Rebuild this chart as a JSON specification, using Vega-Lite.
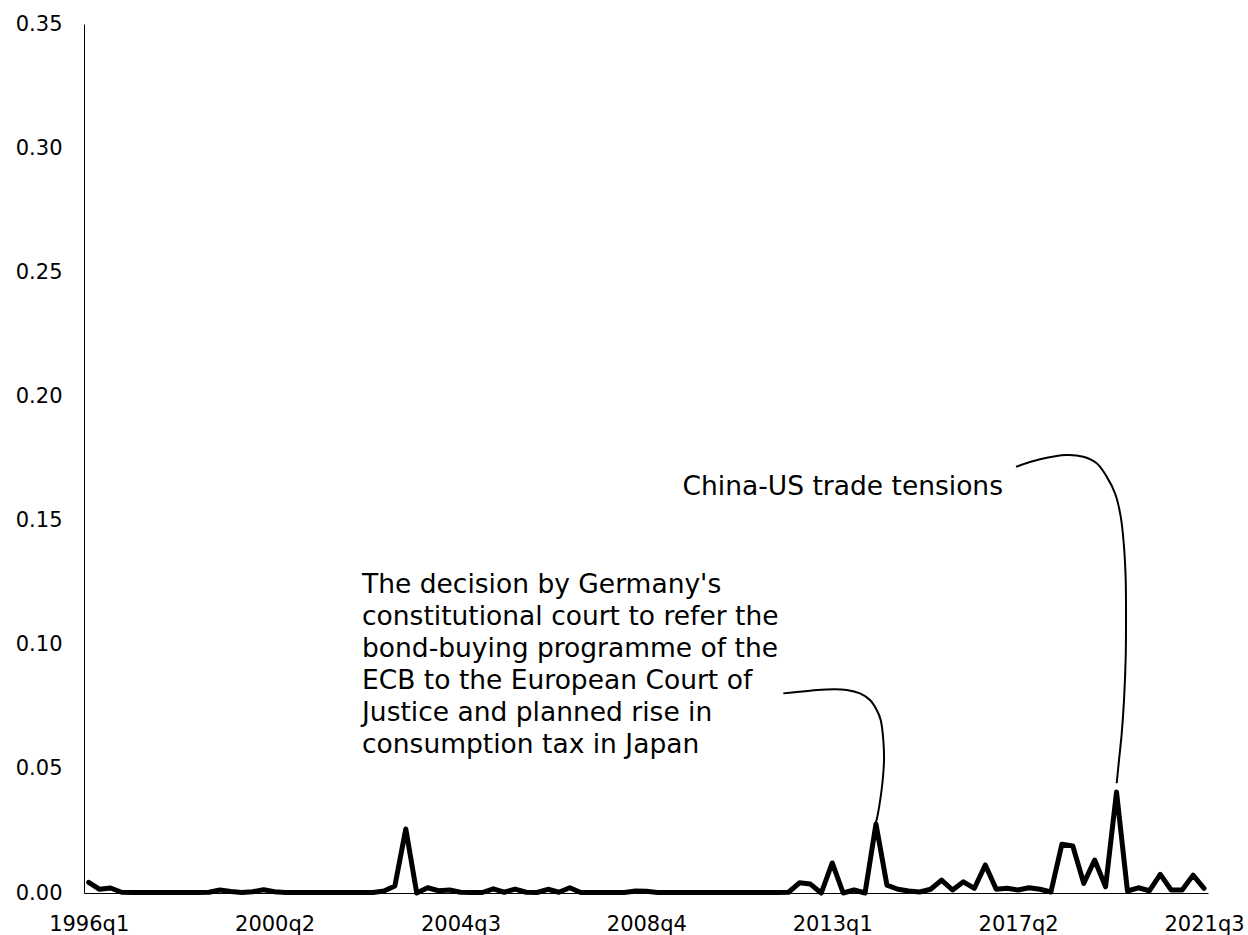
{
  "$schema": "https://vega.github.io/schema/vega-lite/v6.json",
  "autosize": {"type": "none"},
  "padding": {"left": 84, "top": 24, "right": 40, "bottom": 42},
  "width": 1124,
  "height": 869,
  "background": "white",
  "config": {"view": {"stroke": null}, "font": "DejaVu Sans"},
  "datasets": {
    "series": [
      {"q":"1996q1","t":1996.00,"v":0.0043},{"q":"1996q2","t":1996.25,"v":0.0015},{"q":"1996q3","t":1996.50,"v":0.0020},{"q":"1996q4","t":1996.75,"v":0.0003},
      {"q":"1997q1","t":1997.00,"v":0.0002},{"q":"1997q2","t":1997.25,"v":0.0002},{"q":"1997q3","t":1997.50,"v":0.0002},{"q":"1997q4","t":1997.75,"v":0.0002},
      {"q":"1998q1","t":1998.00,"v":0.0002},{"q":"1998q2","t":1998.25,"v":0.0002},{"q":"1998q3","t":1998.50,"v":0.0002},{"q":"1998q4","t":1998.75,"v":0.0003},
      {"q":"1999q1","t":1999.00,"v":0.0012},{"q":"1999q2","t":1999.25,"v":0.0006},{"q":"1999q3","t":1999.50,"v":0.0002},{"q":"1999q4","t":1999.75,"v":0.0005},
      {"q":"2000q1","t":2000.00,"v":0.0013},{"q":"2000q2","t":2000.25,"v":0.0005},{"q":"2000q3","t":2000.50,"v":0.0002},{"q":"2000q4","t":2000.75,"v":0.0002},
      {"q":"2001q1","t":2001.00,"v":0.0002},{"q":"2001q2","t":2001.25,"v":0.0002},{"q":"2001q3","t":2001.50,"v":0.0002},{"q":"2001q4","t":2001.75,"v":0.0002},
      {"q":"2002q1","t":2002.00,"v":0.0002},{"q":"2002q2","t":2002.25,"v":0.0002},{"q":"2002q3","t":2002.50,"v":0.0002},{"q":"2002q4","t":2002.75,"v":0.0008},
      {"q":"2003q1","t":2003.00,"v":0.0028},{"q":"2003q2","t":2003.25,"v":0.0258},{"q":"2003q3","t":2003.50,"v":0.0000},{"q":"2003q4","t":2003.75,"v":0.0021},
      {"q":"2004q1","t":2004.00,"v":0.0009},{"q":"2004q2","t":2004.25,"v":0.0012},{"q":"2004q3","t":2004.50,"v":0.0003},{"q":"2004q4","t":2004.75,"v":0.0002},
      {"q":"2005q1","t":2005.00,"v":0.0002},{"q":"2005q2","t":2005.25,"v":0.0017},{"q":"2005q3","t":2005.50,"v":0.0003},{"q":"2005q4","t":2005.75,"v":0.0016},
      {"q":"2006q1","t":2006.00,"v":0.0003},{"q":"2006q2","t":2006.25,"v":0.0002},{"q":"2006q3","t":2006.50,"v":0.0015},{"q":"2006q4","t":2006.75,"v":0.0003},
      {"q":"2007q1","t":2007.00,"v":0.0021},{"q":"2007q2","t":2007.25,"v":0.0002},{"q":"2007q3","t":2007.50,"v":0.0002},{"q":"2007q4","t":2007.75,"v":0.0002},
      {"q":"2008q1","t":2008.00,"v":0.0002},{"q":"2008q2","t":2008.25,"v":0.0002},{"q":"2008q3","t":2008.50,"v":0.0008},{"q":"2008q4","t":2008.75,"v":0.0007},
      {"q":"2009q1","t":2009.00,"v":0.0002},{"q":"2009q2","t":2009.25,"v":0.0002},{"q":"2009q3","t":2009.50,"v":0.0002},{"q":"2009q4","t":2009.75,"v":0.0002},
      {"q":"2010q1","t":2010.00,"v":0.0002},{"q":"2010q2","t":2010.25,"v":0.0002},{"q":"2010q3","t":2010.50,"v":0.0002},{"q":"2010q4","t":2010.75,"v":0.0002},
      {"q":"2011q1","t":2011.00,"v":0.0002},{"q":"2011q2","t":2011.25,"v":0.0002},{"q":"2011q3","t":2011.50,"v":0.0002},{"q":"2011q4","t":2011.75,"v":0.0002},
      {"q":"2012q1","t":2012.00,"v":0.0003},{"q":"2012q2","t":2012.25,"v":0.0041},{"q":"2012q3","t":2012.50,"v":0.0036},{"q":"2012q4","t":2012.75,"v":0.0000},
      {"q":"2013q1","t":2013.00,"v":0.0121},{"q":"2013q2","t":2013.25,"v":0.0000},{"q":"2013q3","t":2013.50,"v":0.0012},{"q":"2013q4","t":2013.75,"v":0.0000},
      {"q":"2014q1","t":2014.00,"v":0.0278},{"q":"2014q2","t":2014.25,"v":0.0032},{"q":"2014q3","t":2014.50,"v":0.0015},{"q":"2014q4","t":2014.75,"v":0.0008},
      {"q":"2015q1","t":2015.00,"v":0.0004},{"q":"2015q2","t":2015.25,"v":0.0015},{"q":"2015q3","t":2015.50,"v":0.0052},{"q":"2015q4","t":2015.75,"v":0.0012},
      {"q":"2016q1","t":2016.00,"v":0.0045},{"q":"2016q2","t":2016.25,"v":0.0019},{"q":"2016q3","t":2016.50,"v":0.0113},{"q":"2016q4","t":2016.75,"v":0.0015},
      {"q":"2017q1","t":2017.00,"v":0.0019},{"q":"2017q2","t":2017.25,"v":0.0012},{"q":"2017q3","t":2017.50,"v":0.0021},{"q":"2017q4","t":2017.75,"v":0.0015},
      {"q":"2018q1","t":2018.00,"v":0.0004},{"q":"2018q2","t":2018.25,"v":0.0196},{"q":"2018q3","t":2018.50,"v":0.0189},{"q":"2018q4","t":2018.75,"v":0.0039},
      {"q":"2019q1","t":2019.00,"v":0.0133},{"q":"2019q2","t":2019.25,"v":0.0025},{"q":"2019q3","t":2019.50,"v":0.0407},{"q":"2019q4","t":2019.75,"v":0.0008},
      {"q":"2020q1","t":2020.00,"v":0.0021},{"q":"2020q2","t":2020.25,"v":0.0009},{"q":"2020q3","t":2020.50,"v":0.0075},{"q":"2020q4","t":2020.75,"v":0.0012},
      {"q":"2021q1","t":2021.00,"v":0.0012},{"q":"2021q2","t":2021.25,"v":0.0072},{"q":"2021q3","t":2021.50,"v":0.0019}
    ],
    "connectors": [
      {"id":"germany","k":0,"t":2011.881,"v":0.0804},
      {"id":"germany","k":1,"t":2012.492,"v":0.0815},
      {"id":"germany","k":2,"t":2012.874,"v":0.0820},
      {"id":"germany","k":3,"t":2013.331,"v":0.0818},
      {"id":"germany","k":4,"t":2013.635,"v":0.0804},
      {"id":"germany","k":5,"t":2013.863,"v":0.0777},
      {"id":"germany","k":6,"t":2014.017,"v":0.0737},
      {"id":"germany","k":7,"t":2014.108,"v":0.0697},
      {"id":"germany","k":8,"t":2014.168,"v":0.0616},
      {"id":"germany","k":9,"t":2014.184,"v":0.0536},
      {"id":"germany","k":10,"t":2014.154,"v":0.0455},
      {"id":"germany","k":11,"t":2014.108,"v":0.0388},
      {"id":"germany","k":12,"t":2014.031,"v":0.0307},
      {"id":"germany","k":13,"t":2014.001,"v":0.0286},
      {"id":"china","k":0,"t":2017.202,"v":0.1717},
      {"id":"china","k":1,"t":2017.751,"v":0.1747},
      {"id":"china","k":2,"t":2018.361,"v":0.1764},
      {"id":"china","k":3,"t":2018.741,"v":0.1757},
      {"id":"china","k":4,"t":2019.047,"v":0.1731},
      {"id":"china","k":5,"t":2019.275,"v":0.1677},
      {"id":"china","k":6,"t":2019.465,"v":0.1610},
      {"id":"china","k":7,"t":2019.596,"v":0.1516},
      {"id":"china","k":8,"t":2019.671,"v":0.1395},
      {"id":"china","k":9,"t":2019.710,"v":0.1261},
      {"id":"china","k":10,"t":2019.717,"v":0.1126},
      {"id":"china","k":11,"t":2019.710,"v":0.0952},
      {"id":"china","k":12,"t":2019.671,"v":0.0777},
      {"id":"china","k":13,"t":2019.619,"v":0.0643},
      {"id":"china","k":14,"t":2019.557,"v":0.0536},
      {"id":"china","k":15,"t":2019.504,"v":0.0442}
    ],
    "notesLeft": [
      {"t":2002.249,"v":0.1208,"label":"The decision by Germany's|constitutional court to refer the|bond-buying programme of the|ECB to the European Court of|Justice and planned rise in|consumption tax in Japan"}
    ],
    "notesRight": [
      {"t":2016.904,"v":0.1603,"label":"China-US trade tensions"}
    ]
  },
  "encoding": {
    "x": {
      "field": "t", "type": "quantitative",
      "scale": {"domain": [1995.8925, 2021.5915], "nice": false, "zero": false},
      "axis": {
        "title": null, "grid": false, "ticks": false, "tickSize": 0,
        "values": [1996, 2000.25, 2004.5, 2008.75, 2013, 2017.25, 2021.5],
        "labelExpr": "floor(datum.value) + 'q' + (round((datum.value - floor(datum.value)) * 4) + 1)",
        "labelFont": "DejaVu Sans", "labelFontSize": 21, "labelColor": "black",
        "labelPadding": 20, "labelFlush": false, "labelOverlap": false,
        "domainColor": "black", "domainWidth": 1
      }
    },
    "y": {
      "field": "v", "type": "quantitative",
      "scale": {"domain": [0, 0.35], "nice": false},
      "axis": {
        "title": null, "grid": false, "ticks": false, "tickSize": 0,
        "values": [0, 0.05, 0.1, 0.15, 0.2, 0.25, 0.3, 0.35],
        "format": ".2f",
        "labelFont": "DejaVu Sans", "labelFontSize": 21, "labelColor": "black",
        "labelPadding": 22, "labelFlush": false, "labelOverlap": false,
        "domainColor": "black", "domainWidth": 1
      }
    }
  },
  "layer": [
    {
      "data": {"name": "series"},
      "mark": {"type": "line", "color": "black", "strokeWidth": 5, "strokeJoin": "round", "strokeCap": "round"}
    },
    {
      "data": {"name": "connectors"},
      "mark": {"type": "line", "color": "black", "strokeWidth": 2, "interpolate": "catmull-rom"},
      "encoding": {
        "detail": {"field": "id", "type": "nominal"},
        "order": {"field": "k", "type": "quantitative"}
      }
    },
    {
      "data": {"name": "notesLeft"},
      "mark": {"type": "text", "align": "left", "baseline": "alphabetic", "font": "DejaVu Sans", "fontSize": 26.5, "lineHeight": 32, "lineBreak": "|", "color": "black"},
      "encoding": {"text": {"field": "label", "type": "nominal"}}
    },
    {
      "data": {"name": "notesRight"},
      "mark": {"type": "text", "align": "right", "baseline": "alphabetic", "font": "DejaVu Sans", "fontSize": 26.5, "color": "black"},
      "encoding": {"text": {"field": "label", "type": "nominal"}}
    }
  ]
}
